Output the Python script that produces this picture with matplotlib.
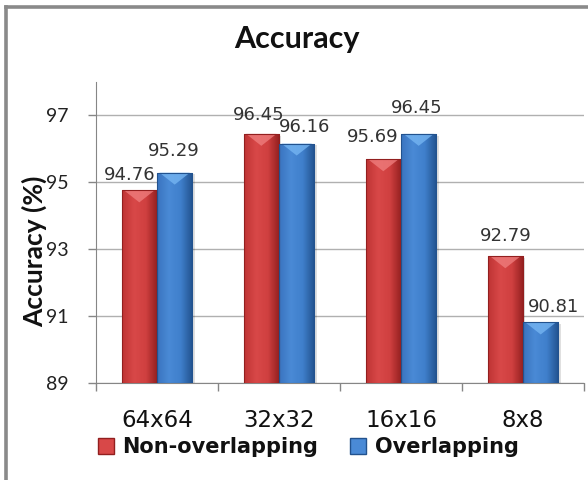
import numpy as np
import matplotlib
matplotlib.use('Agg')
from matplotlib import pyplot as plt
from matplotlib.patches import Rectangle, Polygon, Patch
from matplotlib.lines import Line2D
from matplotlib.colors import LinearSegmentedColormap

block_sizes = ['64x64', '32x32', '16x16', '8x8']
non_overlapping = [94.76, 96.45, 95.69, 92.79]
overlapping = [95.29, 96.16, 96.45, 90.81]
series_names = ['Non-overlapping', 'Overlapping']
y_ticks = [89, 91, 93, 95, 97]

# label nudges in pixels (dx, dy of label centre above the bar top)
red_label_offsets = [(-10, 15), (-3, 19), (-11, 22), (0, 20)]
blue_label_offsets = [(-1, 22), (8, 17), (-2, 26), (13, 15)]

red_shades = ['#bf3434', '#d84848', '#d04040', '#921f1f']
red_top = '#f08080'
blue_shades = ['#3a74bf', '#4a8ad6', '#3f7fcb', '#22528e']
blue_top = '#78b8f4'

calibri_like = ['Lato', 'DejaVu Sans']
wide_font = ['DejaVu Sans']

fig = plt.figure(figsize=(5.88, 4.8), dpi=100)
ax = fig.add_axes([96 / 588., 1 - 383 / 480., 488 / 588., 301 / 480.])

ax.set_xlim(-0.5, 3.5)
ax.set_ylim(89, 98)

px_per_unit = 301 / 9.0
bar_w = 0.29
x = np.arange(len(block_sizes))


def draw_bar(xc, value, shades, top_color):
    x0, x1 = xc - bar_w / 2, xc + bar_w / 2
    # soft shadow to the lower right
    sh = Rectangle((x0 + 0.02, 89), bar_w, value - 89 - 0.05, facecolor='#000000',
                   alpha=0.12, edgecolor='none', zorder=2)
    ax.add_patch(sh)
    rect = Rectangle((x0, 89), bar_w, value - 89, facecolor='none', edgecolor='none', zorder=3)
    ax.add_patch(rect)
    cmap = LinearSegmentedColormap.from_list('bar', shades)
    grad = np.linspace(0, 1, 64).reshape(1, -1)
    im = ax.imshow(grad, extent=[x0, x1, 89, value], aspect='auto', cmap=cmap,
                   zorder=3, interpolation='bicubic')
    im.set_clip_path(rect)
    # bevel highlight at the top
    depth = 12 / px_per_unit
    tri = Polygon([(x0 + 0.02, value), (x1 - 0.02, value), (xc, value - depth)], closed=True,
                  facecolor=top_color, edgecolor='none', alpha=0.75, zorder=4)
    ax.add_patch(tri)
    ax.add_patch(Rectangle((x0, 89), bar_w, value - 89, facecolor='none',
                           edgecolor=shades[-1], linewidth=0.8, zorder=5))


for i in range(len(block_sizes)):
    draw_bar(x[i] - bar_w / 2, non_overlapping[i], red_shades, red_top)
    draw_bar(x[i] + bar_w / 2, overlapping[i], blue_shades, blue_top)
    for xc, val, off in [(x[i] - bar_w / 2, non_overlapping[i], red_label_offsets[i]),
                         (x[i] + bar_w / 2, overlapping[i], blue_label_offsets[i])]:
        ax.annotate('{:.2f}'.format(val), (xc, val), xytext=off, textcoords='offset pixels',
                    ha='center', va='center', fontsize=13, family=wide_font,
                    color='#333333', zorder=6)

ax.set_xlim(-0.5, 3.5)
ax.set_ylim(89, 98)

# axes styling
for side in ['top', 'right']:
    ax.spines[side].set_visible(False)
for side in ['left', 'bottom']:
    ax.spines[side].set_color('#868686')
ax.set_yticks(y_ticks)
ax.set_yticklabels([str(t) for t in y_ticks], family=calibri_like, fontsize=14)
ax.tick_params(axis='y', direction='out', length=6, width=1, color='#868686', pad=14,
               labelcolor='#222222')
ax.grid(axis='y', color='#b0b0b0', linewidth=1)
ax.set_axisbelow(True)

ax.set_xticks(x)
ax.set_xticklabels(block_sizes, family=wide_font, fontsize=16.5)
ax.set_xticks(np.arange(-0.5, 4.0, 1.0), minor=True)
ax.tick_params(axis='x', which='major', length=0, pad=19, labelcolor='#111111')
ax.tick_params(axis='x', which='minor', direction='out', length=6, width=1, color='#868686')

fig.text(297 / 588., 1 - 48 / 480., 'Accuracy', ha='center', va='baseline',
         fontsize=22, fontweight='bold', family=calibri_like, color='#111111')
fig.text(34 / 588., 1 - 251 / 480., 'Accuracy (%)', rotation=90, ha='center', va='center',
         fontsize=19, fontweight='bold', family=calibri_like, color='#111111')

handles = [Patch(facecolor=red_shades[1], edgecolor=red_shades[-1]),
           Patch(facecolor=blue_shades[1], edgecolor=blue_shades[-1])]
fig.legend(handles, series_names, loc='center', bbox_to_anchor=(308 / 588., 1 - 447 / 480.),
           ncol=2, frameon=False, prop={'family': wide_font, 'size': 15, 'weight': 'bold'},
           handlelength=0.8, handleheight=0.8, handletextpad=0.4, columnspacing=1.5,
           borderpad=0, borderaxespad=0, labelcolor='#111111')

# outer chart frame (left and top edges)
fig.add_artist(Line2D([6 / 588., 6 / 588.], [0, 1 - 7 / 480.], color='#8a8a8a', linewidth=2.6,
                      transform=fig.transFigure, solid_capstyle='projecting'))
fig.add_artist(Line2D([6 / 588., 1], [1 - 7 / 480., 1 - 7 / 480.], color='#8a8a8a',
                      linewidth=2.6, transform=fig.transFigure, solid_capstyle='projecting'))

fig.savefig('out.png', dpi=100)
